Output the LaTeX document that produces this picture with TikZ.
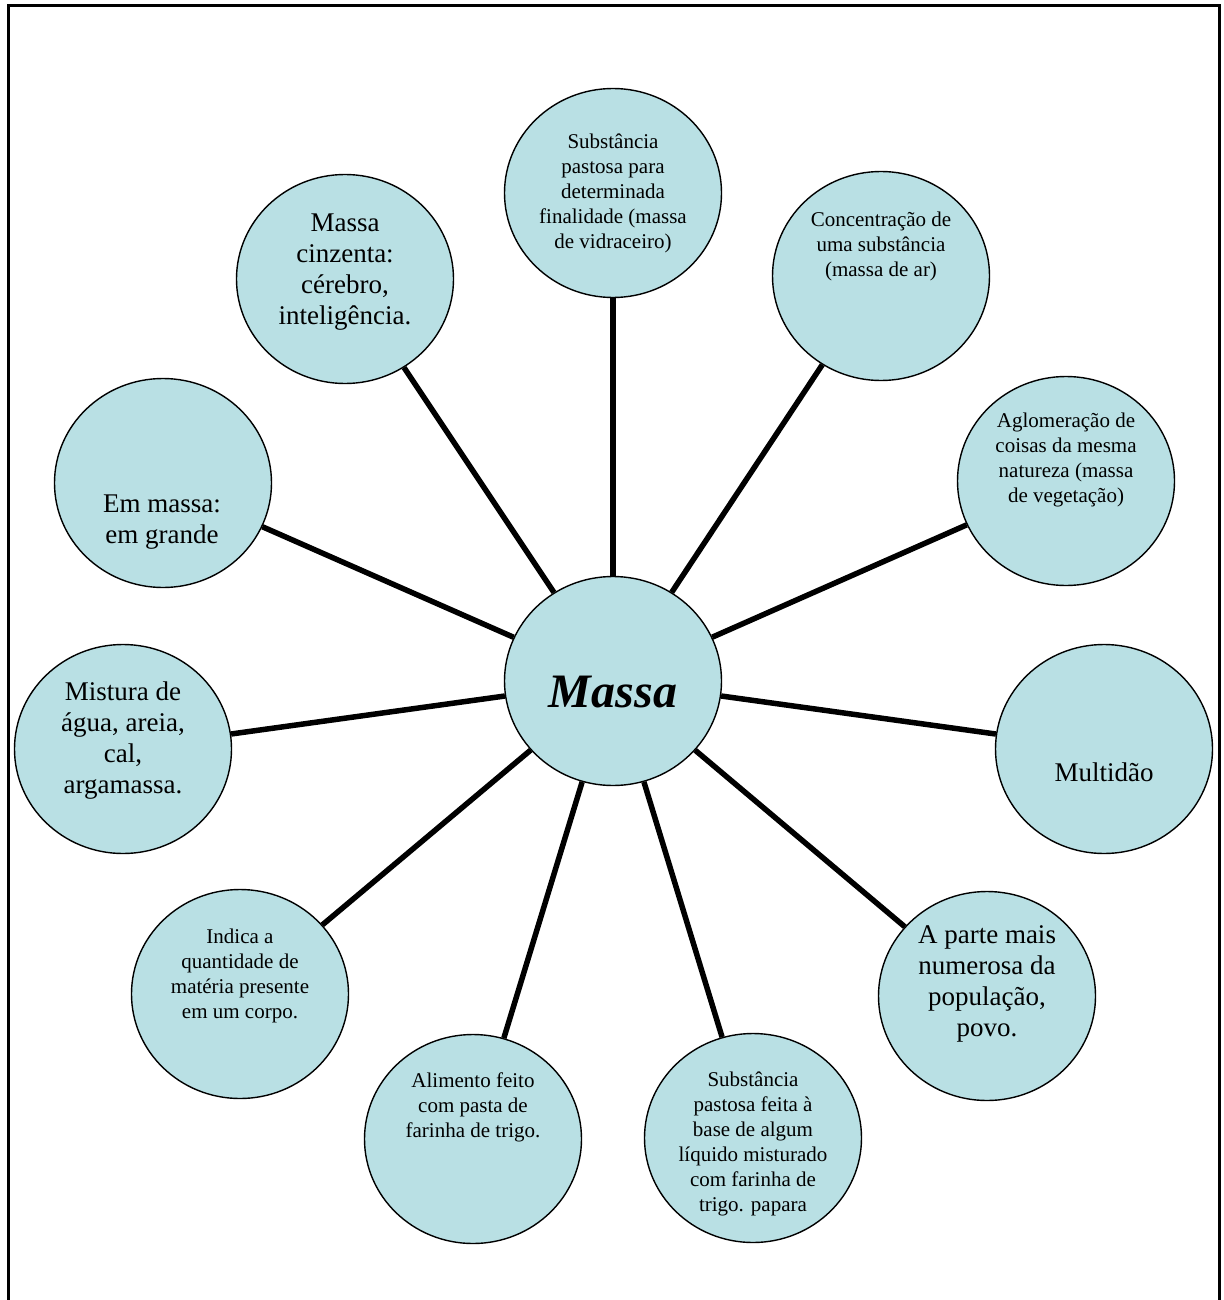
\documentclass[tikz,border=0pt]{standalone}
\usepackage{fontspec}
\setmainfont{Liberation Serif}
\usetikzlibrary{shapes.geometric,backgrounds}
\definecolor{bubfill}{RGB}{185,224,228}
\begin{document}
\begin{tikzpicture}[x=1pt,y=-1pt,
  bub/.style={ellipse, draw=black, line width=1.4pt, fill=bubfill, minimum width=217pt, minimum height=209pt, inner sep=0pt},
  conn/.style={line width=5.5pt},
  small/.style={align=center, font=\fontsize{21}{25}\selectfont, inner sep=0pt},
  big/.style={align=center, font=\fontsize{27}{31}\selectfont, inner sep=0pt},
  frameline/.style={line width=3pt}]
\useasboundingbox (0,0) rectangle (1223,1300);
\draw[frameline] (8,1302) -- (8,6) -- (1219,6) -- (1219,1302);

\node[bub] (c0) at (613,681) {};
\node[bub] (c1) at (613,193) {};
\node[bub] (c2) at (881,276) {};
\node[bub] (c3) at (1066,481) {};
\node[bub] (c4) at (1104,749) {};
\node[bub] (c5) at (987,996) {};
\node[bub] (c6) at (753,1138) {};
\node[bub] (c7) at (473,1139) {};
\node[bub] (c8) at (240,994) {};
\node[bub] (c9) at (123,749) {};
\node[bub] (c10) at (163,483) {};
\node[bub] (c11) at (345,279) {};

\begin{scope}[on background layer]
\foreach \i in {1,...,11} {\draw[conn] (c0) -- (c\i);}
\end{scope}

\node[font=\fontsize{48}{52}\selectfont\bfseries\itshape, inner sep=0pt] (t0) at (613,692) {Massa};
\node[small] (t1) at (613,193) {Substância\\pastosa para\\determinada\\finalidade (massa\\de vidraceiro)};
\node[small] (t2) at (881,246) {Concentração de\\uma substância\\(massa de ar)};
\node[small] (t3) at (1066,460) {Aglomeração de\\coisas da mesma\\natureza (massa\\de vegetação)};
\node[big] (t4) at (1104,772) {Multidão};
\node[big] (t5) at (987,984) {A parte mais\\numerosa da\\população,\\povo.};
\node[small] (t6) at (753,1144) {Substância\\pastosa feita à\\base de algum\\líquido misturado\\com farinha de\\trigo. papara};
\node[small] (t7) at (473,1107) {Alimento feito\\com pasta de\\farinha de trigo.};
\node[small] (t8) at (240,976) {Indica a\\quantidade de\\matéria presente\\em um corpo.};
\node[big] (t9) at (123,741) {Mistura de\\água, areia,\\cal,\\argamassa.};
\node[big] (t10) at (162,522) {Em massa:\\em grande};
\node[big] (t11) at (345,272) {Massa\\cinzenta:\\cérebro,\\inteligência.};
\end{tikzpicture}
\end{document}
